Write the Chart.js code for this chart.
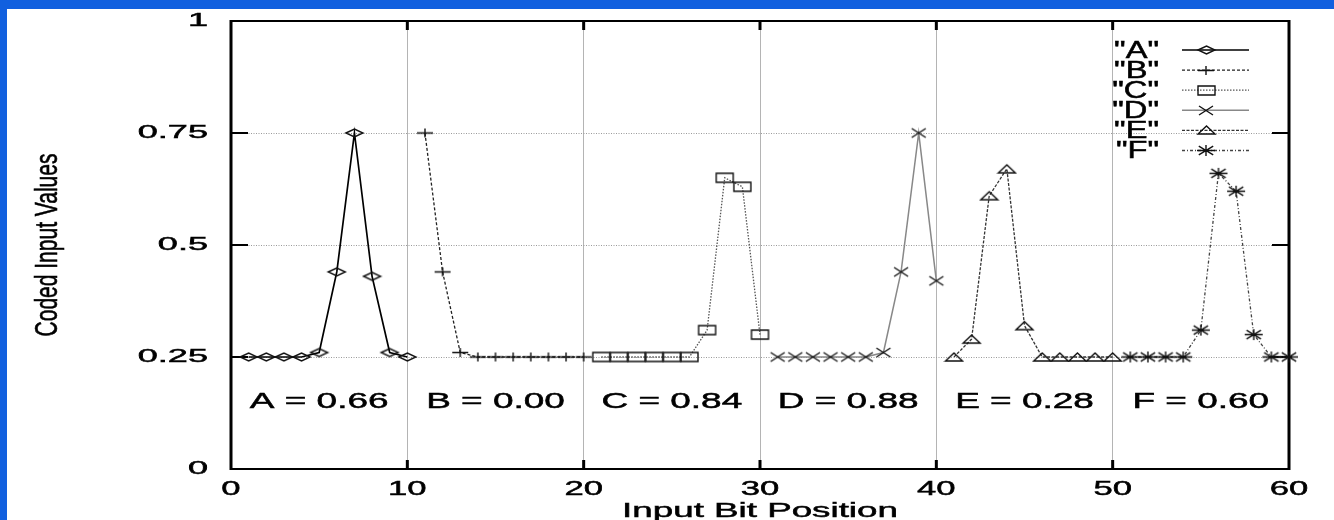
<!DOCTYPE html>
<html>
<head>
<meta charset="utf-8">
<script src="https://cdn.jsdelivr.net/npm/chart.js@4"></script>
<style>
  html, body { margin: 0; padding: 0; background: #fff; }
  #wrap { width: 1334px; height: 520px; }
</style>
</head>
<body>
<div id="wrap"><canvas id="chart" width="1334" height="520"></canvas></div>
<script>
// Input bit positions, ten bits per coded field
const bitPositions = [
    1, 2, 3, 4, 5, 6, 7, 8, 9, 10,
    11, 12, 13, 14, 15, 16, 17, 18, 19, 20,
    21, 22, 23, 24, 25, 26, 27, 28, 29, 30,
    31, 32, 33, 34, 35, 36, 37, 38, 39, 40,
    41, 42, 43, 44, 45, 46, 47, 48, 49, 50,
    51, 52, 53, 54, 55, 56, 57, 58, 59, 60
];

// Coded input values per field
const valuesA = [0.25, 0.25, 0.25, 0.25, 0.26, 0.44, 0.75, 0.43, 0.26, 0.25];
const valuesB = [0.75, 0.44, 0.26, 0.25, 0.25, 0.25, 0.25, 0.25, 0.25, 0.25];
const valuesC = [0.25, 0.25, 0.25, 0.25, 0.25, 0.25, 0.31, 0.65, 0.63, 0.30];
const valuesD = [0.25, 0.25, 0.25, 0.25, 0.25, 0.25, 0.26, 0.44, 0.75, 0.42];
const valuesE = [0.25, 0.29, 0.61, 0.67, 0.32, 0.25, 0.25, 0.25, 0.25, 0.25];
const valuesF = [0.25, 0.25, 0.25, 0.25, 0.31, 0.66, 0.62, 0.30, 0.25, 0.25];

const seriesNames = ['"A"', '"B"', '"C"', '"D"', '"E"', '"F"'];
const fieldNames = ['A', 'B', 'C', 'D', 'E', 'F'];
const fieldScores = ['0.66', '0.00', '0.84', '0.88', '0.28', '0.60'];

const xTicks = [0, 10, 20, 30, 40, 50, 60];
const yTicks = [0, 0.25, 0.5, 0.75, 1];
const yTickLabels = ['0', '0.25', '0.5', '0.75', '1'];
const labelLevel = 0.15;

const FONT = "'Liberation Sans', Arial, Helvetica, sans-serif";

// The original plot is stretched horizontally, so markers are drawn wide
function makeMarker(w, h, draw) {
    let c = document.createElement('canvas');
    c.width = w + 4;
    c.height = h + 4;
    let g = c.getContext('2d');
    g.strokeStyle = '#111';
    g.lineWidth = 1.4;
    g.translate(c.width / 2, c.height / 2);
    g.beginPath();
    draw(g, w / 2, h / 2);
    g.stroke();
    return c;
}

const markers = [
    makeMarker(17, 8, (g, a, b) => {
        g.moveTo(-a, 0); g.lineTo(0, -b); g.lineTo(a, 0); g.lineTo(0, b); g.closePath();
    }),
    makeMarker(16, 9, (g, a, b) => {
        g.moveTo(-a, 0); g.lineTo(a, 0); g.moveTo(0, -b); g.lineTo(0, b);
    }),
    makeMarker(17, 9, (g, a, b) => {
        g.rect(-a, -b, 2 * a, 2 * b);
    }),
    makeMarker(14, 9, (g, a, b) => {
        g.moveTo(-a, -b); g.lineTo(a, b); g.moveTo(-a, b); g.lineTo(a, -b);
    }),
    makeMarker(17, 8, (g, a, b) => {
        g.moveTo(-a, b); g.lineTo(a, b); g.lineTo(0, -b); g.closePath();
    }),
    makeMarker(18, 11, (g, a, b) => {
        g.moveTo(-a, 0); g.lineTo(a, 0); g.moveTo(0, -b); g.lineTo(0, b);
        g.moveTo(-a * 0.8, -b * 0.8); g.lineTo(a * 0.8, b * 0.8);
        g.moveTo(-a * 0.8, b * 0.8); g.lineTo(a * 0.8, -b * 0.8);
    })
];

const lineStyles = [
    { color: '#000', width: 1.7, dash: [] },
    { color: '#222', width: 1.3, dash: [3, 2] },
    { color: '#555', width: 1.3, dash: [1.5, 1.5] },
    { color: '#888', width: 1.5, dash: [] },
    { color: '#333', width: 1.3, dash: [3, 1.5] },
    { color: '#444', width: 1.3, dash: [3, 2, 1, 2] }
];

const allValues = [valuesA, valuesB, valuesC, valuesD, valuesE, valuesF];

let datasets = allValues.map((vals, i) => {
    let xs = bitPositions.slice(i * 10, i * 10 + 10);
    return {
        label: seriesNames[i],
        data: vals.map((v, j) => ({ x: xs[j], y: v })),
        borderColor: lineStyles[i].color,
        borderWidth: lineStyles[i].width,
        borderDash: lineStyles[i].dash,
        pointStyle: markers[i],
        pointRadius: 6,
        tension: 0,
        fill: false,
        clip: false
    };
});

// Draw text squeezed/stretched like the scanned figure (a light stroke gives the scan's weight)
function stretchText(ctx, text, x, y, sx, sy, size, align, baseline) {
    ctx.save();
    ctx.translate(x, y);
    ctx.scale(sx, sy);
    ctx.font = size + 'px ' + FONT;
    ctx.fillStyle = '#000';
    ctx.strokeStyle = '#000';
    ctx.lineWidth = 0.5;
    ctx.textAlign = align;
    ctx.textBaseline = baseline;
    ctx.fillText(text, 0, 0);
    ctx.strokeText(text, 0, 0);
    ctx.restore();
}

const backgroundPlugin = {
    id: 'background',
    beforeDraw(chart) {
        let ctx = chart.ctx;
        ctx.save();
        ctx.fillStyle = '#fff';
        ctx.fillRect(0, 0, chart.width, chart.height);
        ctx.fillStyle = '#1160df';
        ctx.fillRect(0, 0, chart.width, 9);
        ctx.fillRect(0, 0, 7, chart.height);
        ctx.restore();
    }
};

const framePlugin = {
    id: 'frame',
    beforeDatasetsDraw(chart) {
        let ctx = chart.ctx;
        let a = chart.chartArea;
        let xs = chart.scales.x, ys = chart.scales.y;
        ctx.save();
        ctx.strokeStyle = '#000';
        // horizontal edges
        ctx.lineWidth = 2;
        ctx.beginPath();
        ctx.moveTo(a.left, a.top); ctx.lineTo(a.right, a.top);
        ctx.moveTo(a.left, a.bottom); ctx.lineTo(a.right, a.bottom);
        // inner ticks on left/right
        yTicks.forEach((v) => {
            let py = ys.getPixelForValue(v);
            ctx.moveTo(a.left, py); ctx.lineTo(a.left + 17, py);
            ctx.moveTo(a.right, py); ctx.lineTo(a.right - 17, py);
        });
        ctx.stroke();
        // vertical edges
        ctx.lineWidth = 3;
        ctx.beginPath();
        ctx.moveTo(a.left, a.top - 1); ctx.lineTo(a.left, a.bottom + 1);
        ctx.moveTo(a.right, a.top - 1); ctx.lineTo(a.right, a.bottom + 1);
        xTicks.forEach((v) => {
            let px = xs.getPixelForValue(v);
            ctx.moveTo(px, a.top); ctx.lineTo(px, a.top + 9);
            ctx.moveTo(px, a.bottom); ctx.lineTo(px, a.bottom - 9);
        });
        ctx.stroke();
        ctx.restore();
    }
};

const textPlugin = {
    id: 'texts',
    afterDraw(chart) {
        let ctx = chart.ctx;
        let a = chart.chartArea;
        let xs = chart.scales.x, ys = chart.scales.y;

        // tick labels
        yTicks.forEach((v, i) => {
            stretchText(ctx, yTickLabels[i], 208, ys.getPixelForValue(v), 1.95, 1, 18.5, 'right', 'middle');
        });
        xTicks.forEach((v) => {
            stretchText(ctx, String(v), xs.getPixelForValue(v), 489, 1.65, 1, 21, 'center', 'middle');
        });

        // axis titles
        stretchText(ctx, 'Input Bit Position', (a.left + a.right) / 2, 517, 1.75, 1, 21, 'center', 'alphabetic');
        ctx.save();
        ctx.translate(56.5, (a.top + a.bottom) / 2);
        ctx.rotate(-Math.PI / 2);
        ctx.scale(1, 1.45);
        ctx.font = '21px ' + FONT;
        ctx.fillStyle = '#000';
        ctx.strokeStyle = '#000';
        ctx.lineWidth = 0.4;
        ctx.textAlign = 'center';
        ctx.textBaseline = 'alphabetic';
        ctx.fillText('Coded Input Values', 0, 0);
        ctx.strokeText('Coded Input Values', 0, 0);
        ctx.restore();

        // field scores between the grid lines
        fieldNames.forEach((n, i) => {
            let cx = (xs.getPixelForValue(xTicks[i]) + xs.getPixelForValue(xTicks[i + 1])) / 2;
            stretchText(ctx, n + ' = ' + fieldScores[i], cx, ys.getPixelForValue(labelLevel), 1.68, 1, 22, 'center', 'middle');
        });

        // key, top right
        chart.data.datasets.forEach((ds, i) => {
            let ry = 50 + i * 20.1;
            stretchText(ctx, ds.label, 1159, ry + 1, 1.45, 1.05, 22.5, 'right', 'middle');
            ctx.save();
            ctx.strokeStyle = ds.borderColor;
            ctx.lineWidth = ds.borderWidth;
            ctx.setLineDash(ds.borderDash);
            ctx.beginPath();
            ctx.moveTo(1182, ry); ctx.lineTo(1249, ry);
            ctx.stroke();
            let m = ds.pointStyle;
            ctx.drawImage(m, Math.round(1206 - m.width / 2), Math.round(ry - m.height / 2));
            ctx.restore();
        });
    }
};

new Chart(document.getElementById('chart'), {
    type: 'line',
    data: { datasets: datasets },
    options: {
        responsive: false,
        animation: false,
        events: [],
        layout: { padding: { left: 231, top: 21, right: 45, bottom: 51 } },
        plugins: {
            legend: { display: false },
            tooltip: { enabled: false }
        },
        scales: {
            x: {
                type: 'linear',
                min: 0,
                max: 60,
                afterBuildTicks: (s) => { s.ticks = xTicks.map((v) => ({ value: v })); },
                afterFit: (s) => { s.height = 0; },
                ticks: { display: false },
                grid: { color: '#b4b4b4', lineWidth: 1, drawTicks: false },
                border: { display: false }
            },
            y: {
                min: 0,
                max: 1,
                afterBuildTicks: (s) => { s.ticks = yTicks.map((v) => ({ value: v })); },
                afterFit: (s) => { s.width = 0; },
                ticks: { display: false },
                grid: { color: '#9a9a9a', lineWidth: 1, drawTicks: false },
                border: { display: false, dash: [1, 1.5] }
            }
        }
    },
    plugins: [backgroundPlugin, framePlugin, textPlugin]
});
</script>
</body>
</html>
